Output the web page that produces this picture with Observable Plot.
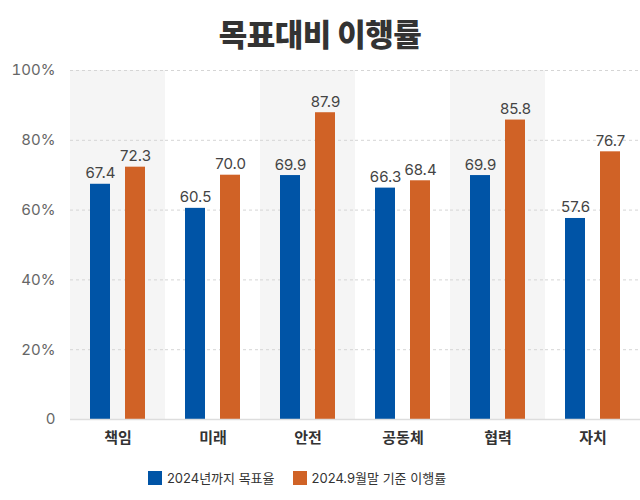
<!DOCTYPE html>
<html>
<head>
<meta charset="utf-8">
<script src="https://cdn.jsdelivr.net/npm/d3@7"></script>
<script src="https://cdn.jsdelivr.net/npm/@observablehq/plot@0.6"></script>
<style>
  body { margin: 0; background: #fff; font-family: Inter, "Noto Sans CJK KR", sans-serif; }
  #title { height: 56px; line-height: 66px; text-align: center; font-size: 31px; font-weight: 900; color: #333; font-family: "Noto Sans CJK KR", sans-serif; letter-spacing: -0.5px; }
  #legend { display: flex; justify-content: center; gap: 18px; margin-top: 12px; font-size: 13px; color: #333; padding-right: 46px; }
  #legend span.item { display: flex; align-items: center; gap: 5px; }
  #legend i { display: inline-block; width: 14px; height: 14px; }
</style>
</head>
<body>
<div id="title">목표대비 이행률</div>
<div id="chart"></div>
<div id="legend"></div>
<script>
const categories = ["책임", "미래", "안전", "공동체", "협력", "자치"];
const seriesNames = ["2024년까지 목표율", "2024.9월말 기준 이행률"];
const targetRate = [67.4, 60.5, 69.9, 66.3, 69.9, 57.6];
const actualRate = [72.3, 70.0, 87.9, 68.4, 85.8, 76.7];
const shadedCategories = ["책임", "안전", "협력"];
const yTicks = [0, 20, 40, 60, 80, 100];
const colors = ["#0054A6", "#D06226"];

const data = [];
categories.forEach((c, i) => {
  data.push({cat: c, series: seriesNames[0], value: targetRate[i]});
  data.push({cat: c, series: seriesNames[1], value: actualRate[i]});
});
const bands = shadedCategories.map(c => ({cat: c, top: 100}));

const chart = Plot.plot({
  width: 640,
  height: 400,
  marginTop: 14,
  marginBottom: 37,
  marginLeft: 70,
  marginRight: 0,
  style: {fontFamily: 'Inter, "Noto Sans CJK KR", sans-serif', fontSize: "15px", background: "transparent"},
  fx: {domain: categories, padding: 0, label: null, axis: null},
  x: {domain: seriesNames, paddingInner: 15/35, paddingOuter: 20/35, axis: null},
  y: {domain: [0, 100], ticks: yTicks, label: null, axis: null},
  color: {domain: seriesNames, range: colors},
  marks: [
    Plot.barY(bands, {fx: "cat", y: "top", fill: "#f5f5f5"}),
    Plot.ruleY(yTicks.filter(d => d > 0), {stroke: "#d5d5d5", strokeDasharray: "3,3"}),
    Plot.axisY({ticks: yTicks, tickSize: 0, tickPadding: 15, tickFormat: d => d === 0 ? "0" : d + "%", fill: "#666", fontSize: 15, label: null}),
    Plot.barY(data, {fx: "cat", x: "series", y: "value", fill: "series"}),
    Plot.text(data, {fx: "cat", x: "series", y: "value", text: d => d.value.toFixed(1), lineAnchor: "bottom", dy: -6, fill: "#444", fontSize: 15}),
    Plot.ruleY([0], {stroke: "#ddd", strokeWidth: 1.5}),
    Plot.axisFx({anchor: "bottom", tickSize: 0, tickPadding: 13, fontWeight: "bold", fill: "#333", fontSize: 15, label: null, fontFamily: '"Noto Sans CJK KR", sans-serif'})
  ]
});
document.getElementById("chart").appendChild(chart);

const legend = document.getElementById("legend");
seriesNames.forEach((s, i) => {
  const item = document.createElement("span");
  item.className = "item";
  const sw = document.createElement("i");
  sw.style.background = colors[i];
  item.appendChild(sw);
  item.appendChild(document.createTextNode(s));
  legend.appendChild(item);
});
</script>
</body>
</html>
